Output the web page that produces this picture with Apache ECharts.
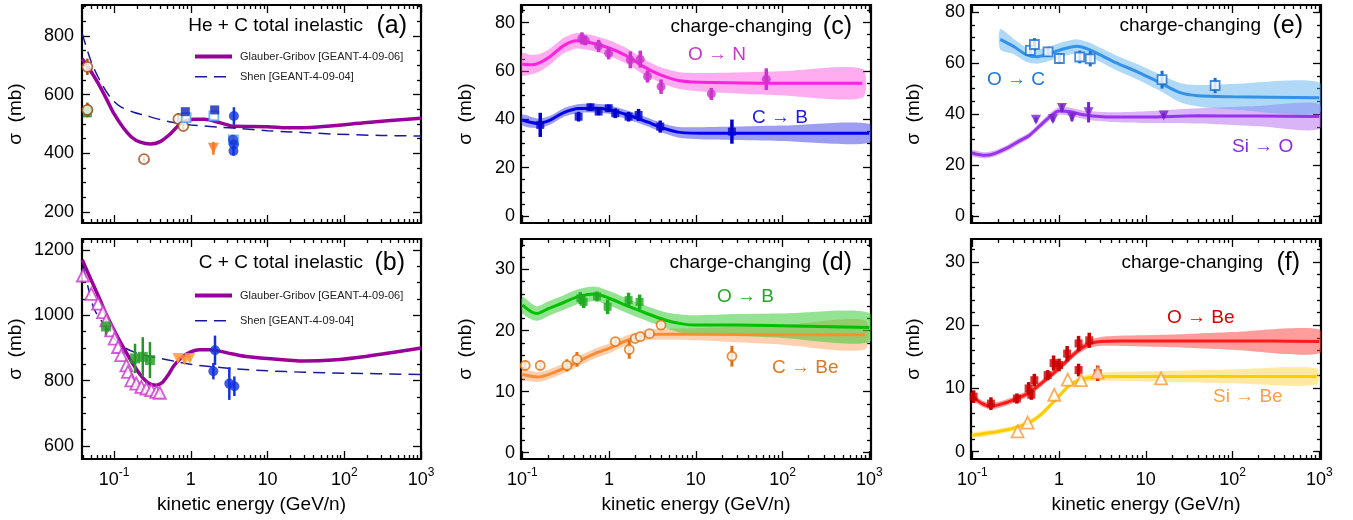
<!DOCTYPE html>
<html>
<head>
<meta charset="utf-8">
<script src="https://cdn.jsdelivr.net/npm/echarts@6/dist/echarts.min.js"></script>
<style>html,body{margin:0;padding:0;background:#fff}#main{width:1353px;height:520px}</style>
</head>
<body>
<div id="main"></div>
<script>
// energies in GeV/n, cross sections in mb
// --- (a) He + C total inelastic
var aGlauberE = [0.0385, 0.05, 0.062, 0.08, 0.1, 0.13, 0.17, 0.22, 0.3, 0.4, 0.55, 0.75, 1.1, 1.5, 2.5, 3.7, 10, 18, 45, 200, 1000];
var aGlauberS = [722, 680, 639, 585, 535, 490, 455, 438, 432, 440, 468, 503, 516, 516, 503, 492, 491, 487, 490, 505, 520];
var aShenE = [0.0385, 0.05, 0.065, 0.09, 0.12, 0.18, 0.25, 0.4, 0.6, 1.0, 1.5, 2.5, 4, 10, 20, 70, 300, 1000];
var aShenS = [809, 715, 650, 590, 560, 540, 530, 515, 505, 497, 493, 489, 485, 477, 473, 466, 461, 459];
var aBrownE = [0.045, 0.045, 0.246, 0.69, 0.80];
var aBrownS = [695, 548, 380, 517, 493];
var aBrownErr = [28, 25, 8, 20, 15];
var aGreenE = [0.046], aGreenS = [548], aGreenErr = [20];
var aBlueSqE = [0.85, 2.05], aBlueSqS = [542, 548];
var aLightSqE = [0.87, 2.0, 3.6], aLightSqS = [522, 528, 446];
var aOrangeE = [1.97], aOrangeS = [417], aOrangeErr = [22];
var aBlueCircE = [3.65, 3.55, 3.65, 3.6];
var aBlueCircS = [527, 446, 430, 408];
var aBlueCircErr = [30, 15, 15, 15];
// --- (b) C + C total inelastic
var bGlauberE = [0.0385, 0.05, 0.065, 0.08, 0.1, 0.13, 0.17, 0.22, 0.28, 0.35, 0.42, 0.5, 0.6, 0.75, 1.0, 1.3, 1.8, 3, 5, 10, 30, 70, 200, 1000];
var bGlauberS = [1170, 1110, 1050, 1000, 955, 905, 858, 818, 793, 786, 793, 815, 845, 870, 888, 895, 895, 885, 875, 868, 860, 863, 875, 900];
var bShenE = [0.0395, 0.046, 0.055, 0.07, 0.09, 0.12, 0.18, 0.25, 0.4, 0.7, 1.0, 2.0, 4, 10, 30, 100, 1000];
var bShenS = [1150, 1086, 1020, 980, 945, 910, 888, 878, 868, 857, 850, 842, 836, 830, 826, 823, 819];
var bTriE = [0.0394, 0.0506, 0.062, 0.072, 0.0794, 0.0922, 0.102, 0.113, 0.124, 0.145, 0.152, 0.168, 0.195, 0.227, 0.264, 0.306, 0.356, 0.394];
var bTriS = [1122, 1066, 1036, 1010, 985, 954, 929, 903, 878, 847, 827, 801, 791, 781, 776, 771, 766, 763];
var bGreenE = [0.0787, 0.188, 0.237, 0.294], bGreenS = [966, 868, 873, 863], bGreenErr = [30, 45, 60, 55];
var bOrangeE = [0.68, 0.83, 0.97], bOrangeS = [868, 863, 868], bOrangeErr = [8, 8, 8];
var bBlueE = [2.07, 1.97, 3.18, 3.7], bBlueS = [893, 829, 791, 783], bBlueErr = [45, 25, 50, 30];
// --- (c) O->N, C->B
var cONE = [0.1, 0.13, 0.16, 0.21, 0.3, 0.42, 0.6, 1.0, 1.6, 2.5, 3.9, 6.5, 15, 100, 830];
var cONS = [62.8, 62.6, 63.5, 66, 70.5, 72.5, 71.8, 69.5, 66.2, 61.8, 58.4, 56, 55.2, 54.9, 54.9];
var cONH = [4.5, 4, 3.6, 3.3, 3.2, 3.2, 3.2, 3.2, 3.2, 3.2, 3.2, 3.5, 4, 5, 6];
var cONDataE = [0.487, 0.532, 0.758, 0.99, 1.76, 2.29, 2.78, 3.98, 15.1, 65];
var cONDataS = [73.5, 72.6, 70.4, 67.3, 64.6, 64.9, 57.7, 53.5, 50.5, 56.6];
var cONDataErr = [2.5, 2, 2.5, 2.5, 3.5, 3.5, 2.5, 3, 2.5, 4.5];
var cCBE = [0.1, 0.15, 0.21, 0.3, 0.45, 0.7, 1.0, 1.7, 2.8, 4.0, 6.5, 15, 100, 1000];
var cCBS = [39.7, 38.3, 39.7, 42.8, 44.5, 44.6, 44.0, 41.6, 38.8, 36.6, 34.6, 34.2, 34.2, 34.2];
var cCBH = [2.2, 2, 1.8, 1.8, 1.8, 1.8, 1.8, 1.8, 1.8, 1.9, 2.2, 2.6, 3.2, 4];
var cCBDataE = [0.161, 0.446, 0.61, 0.758, 0.99, 1.18, 1.68, 2.19, 3.89, 26.1];
var cCBDataS = [37.7, 41.1, 45, 43.2, 44.6, 42.5, 41.1, 41.8, 37, 34.9];
var cCBDataErr = [5, 2, 1.5, 1.5, 1.5, 2, 2, 2.5, 2.5, 5];
// --- (d) O->B, C->Be
var dOBE = [0.1, 0.145, 0.2, 0.3, 0.45, 0.7, 1.0, 1.6, 2.5, 4.5, 7, 10, 30, 100, 1000];
var dOBS = [24.2, 22.8, 23.6, 24.6, 25.6, 26.0, 25.3, 24.1, 23.0, 21.7, 21.1, 20.9, 20.9, 20.8, 20.5];
var dOBH = [1.3, 1.2, 1.2, 1.2, 1.2, 1.2, 1.2, 1.2, 1.2, 1.3, 1.5, 1.6, 1.8, 2.0, 2.4];
var dOBDataE = [0.467, 0.51, 0.726, 0.963, 1.68, 2.25];
var dOBDataS = [25.3, 24.7, 25.6, 23.9, 25.0, 24.7];
var dOBDataErr = [1, 1, 0.8, 1.2, 1.2, 1.2];
var dCBeE = [0.1, 0.15, 0.2, 0.3, 0.45, 0.7, 1.0, 1.6, 2.5, 4, 10, 100, 890];
var dCBeS = [12.8, 12.4, 12.8, 13.8, 15.0, 16.3, 17.1, 18.4, 19.2, 19.4, 19.4, 19.3, 19.3];
var dCBeH = [0.8, 0.8, 0.8, 0.8, 0.8, 0.8, 0.8, 0.8, 0.8, 0.9, 1.0, 1.6, 2.4];
var dCBeDataE = [0.108, 0.161, 0.327, 0.427, 1.18, 1.71, 2.0, 2.29, 2.93, 3.98, 26.1];
var dCBeDataS = [14.3, 14.3, 14.3, 15.3, 18.2, 16.9, 18.7, 19.0, 19.5, 20.9, 15.8];
var dCBeDataErr = [0.8, 0.8, 1.0, 1.2, 0.5, 1.5, 0.5, 0.5, 0.6, 0.5, 1.7];
// --- (e) O->C, Si->O
var eOCE = [0.21, 0.3, 0.42, 0.55, 0.7, 0.9, 1.2, 1.6, 2.2, 3, 4.5, 8, 14, 25, 40, 100, 1000];
var eOCS = [69.3, 66.5, 63.3, 62.5, 63.2, 64.5, 65.8, 66.6, 65.4, 63.2, 60.2, 56.6, 52.6, 48.4, 47.2, 46.8, 46.4];
var eOCH = [4, 3, 2.8, 2.8, 2.8, 2.8, 2.8, 2.8, 2.8, 2.8, 2.9, 3, 3.2, 3.8, 4.2, 5, 6];
var eOCDataE = [0.467, 0.52, 0.747, 1.01, 1.73, 2.29, 15.4, 63];
var eOCDataS = [65, 67.3, 64.4, 61.8, 62.4, 61.7, 53.5, 51.2];
var eOCDataErr = [2, 2.5, 2, 2, 2.5, 3, 3.5, 3];
var eSiOE = [0.1, 0.14, 0.18, 0.25, 0.35, 0.45, 0.6, 0.8, 1.0, 1.3, 2.0, 4, 10, 40, 200, 1000];
var eSiOS = [24.6, 23.8, 24.5, 26.6, 29.5, 31.5, 35.4, 39.2, 41.2, 41.0, 39.6, 38.8, 38.8, 39.3, 39.2, 39.0];
var eSiOH = [1.2, 1.2, 1.2, 1.2, 1.2, 1.2, 1.3, 1.4, 1.5, 1.6, 1.7, 1.9, 2.3, 3, 4, 4.9];
var eSiODataE = [0.542, 0.85, 1.08, 1.41, 2.19, 16.1];
var eSiODataS = [37.8, 38.0, 42.4, 38.7, 40.7, 39.4];
var eSiODataErr = [1, 1, 1.5, 1.5, 4, 1];
// --- (f) O->Be, Si->Be
var fOBeE = [0.1, 0.13, 0.16, 0.2, 0.3, 0.45, 0.65, 0.9, 1.2, 1.6, 2.2, 3, 5, 20, 100, 1000];
var fOBeS = [8.7, 7.6, 7.2, 7.4, 8.2, 9.3, 11.0, 12.6, 14.2, 15.8, 17.0, 17.4, 17.5, 17.5, 17.5, 17.4];
var fOBeH = [0.5, 0.5, 0.5, 0.5, 0.5, 0.5, 0.5, 0.5, 0.5, 0.5, 0.6, 0.7, 0.8, 1.0, 1.4, 1.9];
var fOBeDataE = [0.1035, 0.164, 0.327, 0.446, 0.479, 0.519, 0.738, 0.865, 1.0, 1.24, 1.68, 1.68, 2.23, 2.79];
var fOBeDataS = [8.7, 7.6, 8.4, 10.0, 9.0, 11.3, 12.1, 14.0, 13.7, 15.5, 17.1, 12.9, 17.6, 12.4];
var fOBeDataErr = [1, 1, 0.8, 1, 0.8, 1, 0.8, 1.2, 1, 1.2, 1.2, 1, 1.2, 1.2];
var fSiBeE = [0.1, 0.2, 0.3, 0.45, 0.6, 0.8, 1.0, 1.3, 1.7, 2.5, 4, 10, 100, 930];
var fSiBeS = [2.6, 3.2, 3.7, 4.6, 5.7, 7.4, 8.8, 10.4, 11.3, 11.8, 11.9, 11.9, 11.9, 11.9];
var fSiBeH = [0.4, 0.4, 0.4, 0.4, 0.4, 0.4, 0.4, 0.4, 0.5, 0.6, 0.7, 0.8, 1.1, 1.3];
var fSiBeDataE = [0.333, 0.434, 0.88, 1.26, 1.79, 2.79, 15];
var fSiBeDataS = [3.2, 4.6, 9.0, 11.4, 11.3, 12.5, 11.6];

// tick labels
var xTickE = [0.1, 1, 10, 100, 1000];
var xTickBase = ['10', '1', '10', '10', '10'];
var xTickExp = ['-1', '', '', '2', '3'];
var aYTicks = [200, 400, 600, 800];
var bYTicks = [600, 800, 1000, 1200];
var cYTicks = [0, 20, 40, 60, 80];
var dYTicks = [0, 10, 20, 30];
var eYTicks = [0, 20, 40, 60, 80];
var fYTicks = [0, 10, 20, 30];

var FONT = 'Liberation Sans';
var GG = 'Glauber-Gribov [GEANT-4-09-06]';
var SHEN = 'Shen [GEANT-4-09-04]';
var DASH = [12, 7];

function L(e) { return Math.log10(e); }

var panels = [
    {left: 82, top: 5, width: 339, height: 218, xMin: -1.417, xMax: 3.0, yMin: 162.5, yMax: 905.7, yMajor: aYTicks, yStep: 50, showX: false, yGap: 57, yMargin: 8},
    {left: 82, top: 239, width: 339, height: 220, xMin: -1.417, xMax: 3.0, yMin: 560.2, yMax: 1233.7, yMajor: bYTicks, yStep: 50, showX: true, yGap: 57, yMargin: 8},
    {left: 521, top: 5, width: 350, height: 218, xMin: -1.015, xMax: 3.02, yMin: -2.9, yMax: 87.3, yMajor: cYTicks, yStep: 5, showX: false, yGap: 46, yMargin: 6},
    {left: 521, top: 239, width: 350, height: 220, xMin: -1.015, xMax: 3.02, yMin: -1.03, yMax: 35, yMajor: dYTicks, yStep: 2, showX: true, yGap: 46, yMargin: 6},
    {left: 971, top: 5, width: 350, height: 218, xMin: -1.015, xMax: 3.02, yMin: -2.75, yMax: 82.8, yMajor: eYTicks, yStep: 5, showX: false, yGap: 48, yMargin: 6},
    {left: 971, top: 239, width: 350, height: 220, xMin: -1.015, xMax: 3.02, yMin: -1.15, yMax: 33.6, yMajor: fYTicks, yStep: 2, showX: true, yGap: 48, yMargin: 6}
];

// minor tick positions of a log axis (2..9 of each decade)
function logMinor(lo, hi) {
    var out = [];
    for (var d = -2; d <= 3; d++) {
        for (var k = 2; k <= 9; k++) {
            var v = d + L(k);
            if (v > lo && v < hi) out.push(v);
        }
    }
    return out;
}
function linMinor(lo, hi, step, majors) {
    var out = [];
    for (var v = Math.ceil(lo / step) * step; v < hi; v += step) {
        if (majors.indexOf(Math.round(v * 100) / 100) < 0) out.push(v);
    }
    return out;
}

var grids = [], xAxes = [], yAxes = [];
panels.forEach(function (p, g) {
    grids.push({left: p.left, top: p.top, width: p.width, height: p.height, show: true,
        borderColor: '#000', borderWidth: 2.2, backgroundColor: 'rgba(0,0,0,0)'});
    var xMaj = xTickE.map(L), xMnr = logMinor(p.xMin, p.xMax);
    ['bottom', 'top'].forEach(function (pos) {
        [xMaj, xMnr].forEach(function (vals, k) {
            var ax = {type: 'value', gridIndex: g, position: pos, min: p.xMin, max: p.xMax,
                axisLine: {show: false, onZero: false}, splitLine: {show: false},
                axisTick: {inside: true, length: k ? 4 : 8, customValues: vals, lineStyle: {color: '#000', width: 1.3}},
                axisLabel: {show: false}};
            if (pos === 'bottom' && k === 0 && p.showX) {
                ax.axisLabel = {show: true, customValues: xMaj, margin: 8, color: '#000',
                    formatter: function (v) {
                        var i = 0;
                        xMaj.forEach(function (m, j) { if (Math.abs(m - v) < 1e-6) i = j; });
                        return '{b|' + xTickBase[i] + '}' + (xTickExp[i] ? '{s|' + xTickExp[i] + '}' : '');
                    },
                    rich: {
                        b: {fontSize: 18, lineHeight: 22, fontFamily: FONT, color: '#000', verticalAlign: 'bottom'},
                        s: {fontSize: 12, lineHeight: 12, fontFamily: FONT, color: '#000', verticalAlign: 'top'}
                    }};
                ax.name = 'kinetic energy (GeV/n)';
                ax.nameLocation = 'middle';
                ax.nameGap = 36;
                ax.nameTextStyle = {fontSize: 19, fontFamily: FONT, color: '#000'};
            }
            xAxes.push(ax);
        });
    });
    var yMnr = linMinor(p.yMin, p.yMax, p.yStep, p.yMajor);
    ['left', 'right'].forEach(function (pos) {
        [p.yMajor, yMnr].forEach(function (vals, k) {
            var ax = {type: 'value', gridIndex: g, position: pos, min: p.yMin, max: p.yMax,
                axisLine: {show: false, onZero: false}, splitLine: {show: false},
                axisTick: {inside: true, length: k ? 4 : 8, customValues: vals, lineStyle: {color: '#000', width: 1.3}},
                axisLabel: {show: false}};
            if (pos === 'left' && k === 0) {
                ax.axisLabel = {show: true, customValues: p.yMajor, margin: p.yMargin, color: '#000',
                    fontSize: 18, fontFamily: FONT, formatter: function (v) { return String(Math.round(v)); }};
                ax.name = 'σ  (mb)';
                ax.nameLocation = 'middle';
                ax.nameGap = p.yGap;
                ax.nameTextStyle = {fontSize: 19, fontFamily: FONT, color: '#000'};
            }
            yAxes.push(ax);
        });
    });
});

var series = [];
function band(g, E, S, H, color) {
    var d = E.map(function (e, i) { return [L(e), S[i] - H[i], S[i] + H[i]]; });
    series.push({type: 'custom', xAxisIndex: g * 4, yAxisIndex: g * 4, clip: true, silent: true, z: 1, data: d,
        renderItem: function (params, api) {
            if (params.dataIndex !== 0) return null;
            var up = [], dn = [];
            d.forEach(function (q) {
                up.push(api.coord([q[0], q[2]]));
                dn.unshift(api.coord([q[0], q[1]]));
            });
            return {type: 'polygon', shape: {points: up.concat(dn), smooth: 0.25}, style: {fill: color}};
        }});
}
function curve(g, E, S, color, width, name, dash) {
    series.push({type: 'line', name: name, xAxisIndex: g * 4, yAxisIndex: g * 4, z: 2, silent: true,
        data: E.map(function (e, i) { return [L(e), S[i]]; }),
        smooth: 0.3, symbol: 'none', clip: true,
        lineStyle: {color: color, width: width, type: dash || 'solid'}, itemStyle: {color: color}});
}
function errs(g, E, S, Er, color, w) {
    series.push({type: 'custom', xAxisIndex: g * 4, yAxisIndex: g * 4, clip: true, silent: true, z: 3,
        data: E.map(function (e, i) { return [L(e), S[i] - Er[i], S[i] + Er[i]]; }),
        encode: {x: 0, y: [1, 2]},
        renderItem: function (params, api) {
            var a = api.coord([api.value(0), api.value(1)]);
            var b = api.coord([api.value(0), api.value(2)]);
            return {type: 'line', shape: {x1: a[0], y1: a[1], x2: b[0], y2: b[1]},
                style: {stroke: color, lineWidth: w}};
        }});
}
function marks(g, E, S, symbol, size, color, open, rot) {
    series.push({type: 'scatter', xAxisIndex: g * 4, yAxisIndex: g * 4, z: 4, silent: true,
        data: E.map(function (e, i) { return [L(e), S[i]]; }),
        symbol: symbol, symbolSize: size, symbolRotate: rot || 0,
        itemStyle: open ? {color: '#fff', borderColor: color, borderWidth: 1.8} : {color: color}});
}

// (a)
curve(0, aGlauberE, aGlauberS, '#990099', 3.5, GG);
curve(0, aShenE, aShenS, '#1a1a99', 1.5, SHEN, DASH);
errs(0, aGreenE, aGreenS, aGreenErr, '#228b22', 2.5);
marks(0, [0.045], [538], 'rect', 9, '#228b22');
marks(0, aGreenE, aGreenS, 'circle', 10, '#228b22');
errs(0, aBrownE, aBrownS, aBrownErr, '#a84a14', 2.5);
marks(0, aBrownE, aBrownS, 'circle', 10, '#a84a14', true);
marks(0, aLightSqE, aLightSqS, 'rect', 9, '#44aaff', true);
marks(0, aBlueSqE, aBlueSqS, 'rect', 9, '#1122bb');
errs(0, aOrangeE, aOrangeS, aOrangeErr, '#ff7722', 2.5);
marks(0, aOrangeE, aOrangeS, 'triangle', 11, '#ff7722', false, 180);
errs(0, aBlueCircE, aBlueCircS, aBlueCircErr, '#1133dd', 2.5);
marks(0, aBlueCircE, aBlueCircS, 'circle', 10, '#1133dd');
// (b)
curve(1, bGlauberE, bGlauberS, '#990099', 3.5, GG);
curve(1, bShenE, bShenS, '#1a1a99', 1.5, SHEN, DASH);
marks(1, bTriE, bTriS, 'triangle', 12, '#cc33cc', true);
errs(1, bGreenE, bGreenS, bGreenErr, '#229922', 2.5);
marks(1, bGreenE, bGreenS, 'rect', 10, '#229922');
errs(1, bOrangeE, bOrangeS, bOrangeErr, '#ff9933', 2.5);
marks(1, bOrangeE, bOrangeS, 'triangle', 11, '#ff9933', false, 180);
errs(1, bBlueE, bBlueS, bBlueErr, '#1133dd', 2.5);
marks(1, bBlueE, bBlueS, 'circle', 10, '#1133dd');
// (c)
band(2, cONE, cONS, cONH, 'rgba(255,70,225,0.45)');
band(2, cCBE, cCBS, cCBH, 'rgba(60,60,230,0.5)');
curve(2, cONE, cONS, '#ff22dd', 3);
curve(2, cCBE, cCBS, '#0000ee', 3);
errs(2, cONDataE, cONDataS, cONDataErr, '#cc33cc', 3.5);
marks(2, cONDataE, cONDataS, 'circle', 9, '#cc33cc');
errs(2, cCBDataE, cCBDataS, cCBDataErr, '#0000cc', 3.5);
marks(2, cCBDataE, cCBDataS, 'rect', 8, '#0000cc');
// (d)
band(3, dCBeE, dCBeS, dCBeH, 'rgba(255,150,80,0.45)');
band(3, dOBE, dOBS, dOBH, 'rgba(40,200,40,0.5)');
curve(3, dCBeE, dCBeS, '#ff8c33', 3);
curve(3, dOBE, dOBS, '#00c000', 3);
errs(3, dOBDataE, dOBDataS, dOBDataErr, '#22aa22', 3.5);
marks(3, dOBDataE, dOBDataS, 'rect', 8, '#22aa22');
errs(3, dCBeDataE, dCBeDataS, dCBeDataErr, '#e07010', 3);
marks(3, dCBeDataE, dCBeDataS, 'circle', 9, '#e07010', true);
// (e)
band(4, eSiOE, eSiOS, eSiOH, 'rgba(170,90,240,0.45)');
band(4, eOCE, eOCS, eOCH, 'rgba(80,170,240,0.45)');
curve(4, eSiOE, eSiOS, '#9933ee', 3);
curve(4, eOCE, eOCS, '#3392e6', 3);
errs(4, eOCDataE, eOCDataS, eOCDataErr, '#1a6fd0', 3);
marks(4, eOCDataE, eOCDataS, 'rect', 9, '#1a6fd0', true);
errs(4, eSiODataE, eSiODataS, eSiODataErr, '#7722cc', 3);
marks(4, eSiODataE, eSiODataS, 'triangle', 10, '#7722cc', false, 180);
// (f)
band(5, fSiBeE, fSiBeS, fSiBeH, 'rgba(255,210,40,0.45)');
band(5, fOBeE, fOBeS, fOBeH, 'rgba(255,60,60,0.5)');
curve(5, fSiBeE, fSiBeS, '#ffcc00', 3);
curve(5, fOBeE, fOBeS, '#ff1a1a', 3);
errs(5, fOBeDataE, fOBeDataS, fOBeDataErr, '#cc0000', 3.5);
marks(5, fOBeDataE, fOBeDataS, 'rect', 8, '#cc0000');
marks(5, fSiBeDataE, fSiBeDataS, 'triangle', 12, '#ff9933', true);

function txt(x, y, text, size, color, align) {
    return {type: 'text', x: x, y: y, silent: true, z: 10,
        style: {text: text, font: size + 'px "' + FONT + '"', fill: color,
            textAlign: align, align: align, textVerticalAlign: 'middle', verticalAlign: 'middle'}};
}
var labels = [
    txt(363, 26, 'He + C total inelastic', 19, '#000', 'right'),
    txt(407, 26, '(a)', 25, '#000', 'right'),
    txt(363, 263, 'C + C total inelastic', 19, '#000', 'right'),
    txt(405, 263, '(b)', 25, '#000', 'right'),
    txt(812, 27, 'charge-changing', 19, '#000', 'right'),
    txt(852, 27, '(c)', 25, '#000', 'right'),
    txt(811, 263, 'charge-changing', 19, '#000', 'right'),
    txt(852, 263, '(d)', 25, '#000', 'right'),
    txt(1261, 26, 'charge-changing', 19, '#000', 'right'),
    txt(1303, 26, '(e)', 25, '#000', 'right'),
    txt(1263, 263, 'charge-changing', 19, '#000', 'right'),
    txt(1300, 263, '(f)', 25, '#000', 'right'),
    txt(688, 55, 'O → N', 19, '#cc33cc', 'left'),
    txt(752, 118, 'C → B', 19, '#1a1aee', 'left'),
    txt(717, 297, 'O → B', 19, '#22aa22', 'left'),
    txt(772, 368, 'C → Be', 19, '#e07a20', 'left'),
    txt(987, 80, 'O → C', 19, '#1a78d6', 'left'),
    txt(1232, 147, 'Si → O', 19, '#8a2be2', 'left'),
    txt(1167, 318, 'O → Be', 19, '#dd0000', 'left'),
    txt(1213, 397, 'Si → Be', 19, '#ffa040', 'left')
];

function legendAt(top, gap) {
    return {left: 193, top: top, padding: 0, orient: 'vertical', itemWidth: 37, itemHeight: 14, itemGap: gap,
        selectedMode: false, textStyle: {fontSize: 11, color: '#222', fontFamily: FONT, padding: [0, 0, 0, 3]},
        data: [
            {name: GG, itemStyle: {opacity: 0}, lineStyle: {width: 4, color: '#990099'}},
            {name: SHEN, itemStyle: {opacity: 0}, lineStyle: {width: 1.5, color: '#1a1a99', type: DASH}}
        ]};
}

var chart = echarts.init(document.getElementById('main'));
chart.setOption({
    animation: false,
    backgroundColor: '#fff',
    textStyle: {fontFamily: FONT},
    grid: grids,
    xAxis: xAxes,
    yAxis: yAxes,
    legend: [legendAt(51, 9), legendAt(290, 14)],
    graphic: labels,
    series: series
});
</script>
</body>
</html>
